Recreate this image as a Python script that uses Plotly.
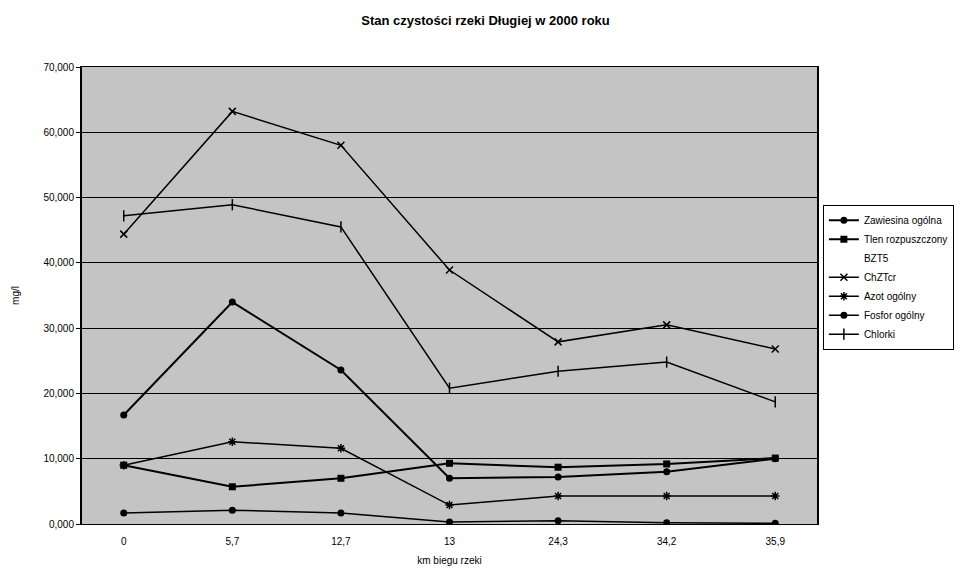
import plotly.graph_objects as go

km = ["0", "5,7", "12,7", "13", "24,3", "34,2", "35,9"]

zawiesina = [16.7, 34.0, 23.6, 7.0, 7.2, 8.0, 10.0]
tlen = [9.0, 5.7, 7.0, 9.3, 8.7, 9.2, 10.1]
bzt5 = [None] * 7
chzt = [44.4, 63.2, 58.0, 38.9, 27.9, 30.5, 26.8]
azot = [9.0, 12.6, 11.6, 2.9, 4.3, 4.3, 4.3]
fosfor = [1.7, 2.1, 1.7, 0.3, 0.5, 0.2, 0.1]
chlorki = [47.2, 48.9, 45.5, 20.8, 23.4, 24.8, 18.7]

names = ["Zawiesina ogólna", "Tlen rozpuszczony", "BZT5", "ChZTcr",
         "Azot ogólny", "Fosfor ogólny", "Chlorki"]

fig = go.Figure()
styles = [
    (zawiesina, dict(color="black", width=2), dict(symbol="circle", size=7)),
    (tlen, dict(color="black", width=2), dict(symbol="square", size=7)),
    (bzt5, dict(color="rgba(0,0,0,0)", width=1), dict(size=1, color="rgba(0,0,0,0)")),
    (chzt, dict(color="black", width=1.5), dict(symbol="x-thin-open", size=7, line=dict(width=1.5, color="black"))),
    (azot, dict(color="black", width=1.5), dict(symbol="asterisk-open", size=7, line=dict(width=1.5, color="black"))),
    (fosfor, dict(color="black", width=1.5), dict(symbol="circle", size=7)),
    (chlorki, dict(color="black", width=1.5), dict(symbol="line-ns-open", size=8, line=dict(width=1.5, color="black"))),
]
for name, (vals, ln, mk) in zip(names, styles):
    mk = dict(mk)
    mk.setdefault("color", "black")
    fig.add_trace(go.Scatter(x=km, y=vals, name=name, mode="lines+markers",
                             line=ln, marker=mk))

font = "Liberation Sans, Arial, sans-serif"
fig.update_layout(
    width=971, height=573,
    margin=dict(l=82, r=154, t=67, b=49, autoexpand=False),
    paper_bgcolor="white",
    plot_bgcolor="#c4c4c4",
    separators=", ",
    font=dict(family=font, size=10, color="black"),
    title=dict(text="<b>Stan czystości rzeki Długiej w 2000 roku</b>",
               x=0.5, xanchor="center", y=0.965, yanchor="middle",
               font=dict(size=13, family=font)),
    showlegend=True,
    legend=dict(x=1.008, xanchor="left", y=0.54, yanchor="middle",
                bgcolor="white", bordercolor="black", borderwidth=1,
                font=dict(size=10, family=font), tracegroupgap=0,
                itemwidth=30),
    xaxis=dict(type="category", showgrid=False, showline=True, linecolor="black",
               linewidth=1, mirror=True, ticks="", tickfont=dict(size=10),
               ticklabelstandoff=8,
               title=dict(text="km biegu rzeki", font=dict(size=10), standoff=10)),
    yaxis=dict(range=[0, 70], dtick=10, tickformat=".3f", showgrid=True,
               gridcolor="black", gridwidth=1, showline=True, linecolor="black",
               linewidth=2, mirror=True, ticks="outside", ticklen=4,
               tickcolor="black", tickfont=dict(size=10), zeroline=False,
               title=dict(text="mg/l", font=dict(size=10), standoff=22)),
)

fig.write_html("out.html")
